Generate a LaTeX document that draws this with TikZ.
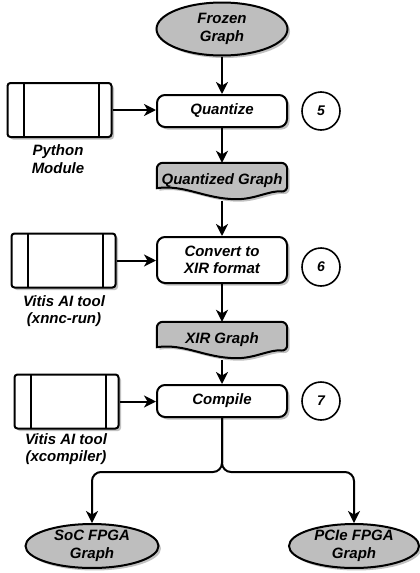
\documentclass[tikz,border=0pt]{standalone}
\usepackage{fontspec}
\setmainfont{Liberation Sans}
\usetikzlibrary{shapes.geometric, arrows.meta, calc, shadows, backgrounds}

\definecolor{shapegray}{RGB}{190,190,190}

% wavy bottom of a document shape, drawn behind the named node
\newcommand{\docshape}[1]{%
  \begin{pgfonlayer}{background}
    \filldraw[docline] ($(#1.south west)+(0,-11)$) [rounded corners=6pt]
      -- (#1.north west) -- (#1.north east) -- ($(#1.south east)+(0,-7)$) [sharp corners]
      .. controls ($(#1.south east)+(-17,-9)$) and ($(#1.south)+(33,0)$) .. ($(#1.south)+(15,0)$)
      .. controls ($(#1.south)+(-17,0)$) and ($(#1.south west)+(28,-15)$) .. ($(#1.south west)+(0,-11)$)
      -- cycle;
  \end{pgfonlayer}}

\begin{document}
\begin{tikzpicture}[x=1pt, y=-1pt,
    every node/.style={font=\bfseries\itshape\fontsize{15}{17.5}\selectfont, align=center},
    myshadow/.style={drop shadow={shadow xshift=2.5pt, shadow yshift=-2.5pt, fill=black!35, opacity=.7}},
    terminal/.style={ellipse, draw, line width=2pt, fill=shapegray, myshadow, inner sep=0pt},
    process/.style={rectangle, rounded corners=8pt, draw, line width=2pt, fill=white,
                    myshadow, minimum width=130pt, inner sep=0pt},
    docnode/.style={minimum width=130pt, minimum height=36pt, inner sep=0pt},
    docline/.style={line width=2pt, fill=shapegray, myshadow},
    module/.style={rectangle, rounded corners=3pt, draw, line width=2pt, fill=white, myshadow,
                   minimum width=104pt, minimum height=54pt,
                   path picture={
                     \draw[line width=2pt] ([xshift=16pt]path picture bounding box.north west)
                                        -- ([xshift=16pt]path picture bounding box.south west);
                     \draw[line width=2pt] ([xshift=-13pt]path picture bounding box.north east)
                                        -- ([xshift=-13pt]path picture bounding box.south east);}},
    stepnum/.style={circle, draw, line width=1.6pt, minimum size=38pt, inner sep=0pt,
                    font=\bfseries\itshape\fontsize{14}{16}\selectfont},
    flow/.style={line width=2pt, -{Stealth[length=12pt, width=12pt, inset=3.5pt]}}]

    \useasboundingbox (0,0) rectangle (420,573);

    % main column
    \node[terminal, minimum width=131pt, minimum height=53pt] (frozen) at (222,29) {Frozen\\Graph};
    \node[process, minimum height=32pt] (quant) at (222,111) {Quantize};
    \node[docnode] (qgraph) at (222,181) {Quantized Graph};
    \docshape{qgraph}
    \node[process, minimum height=46pt] (convert) at (222,260) {Convert to\\XIR format};
    \node[docnode] (xirgraph) at (222,340) {XIR Graph};
    \docshape{xirgraph}
    \node[process, minimum height=32pt] (compile) at (222,401) {Compile};

    % outputs
    \node[terminal, minimum width=133pt, minimum height=43pt] (soc) at (92,546) {SoC FPGA\\Graph};
    \node[terminal, minimum width=130pt, minimum height=43pt] (pcie) at (354,546) {PCIe FPGA\\Graph};

    % step numbers
    \node[stepnum] (s5) at (321,111) {5};
    \node[stepnum] (s6) at (321,267) {6};
    \node[stepnum] (s7) at (321,401) {7};

    % tools
    \node[module] (mod1) at (59.5,110) {};
    \node[module] (mod2) at (63.5,260.5) {};
    \node[module] (mod3) at (66.5,401.5) {};
    \node (lab1) at (58,159) {Python\\Module};
    \node (lab2) at (64,311) {Vitis AI tool\\(xnnc-run)};
    \node (lab3) at (66,449) {Vitis AI tool\\(xcompiler)};

    % connectors
    \draw[flow] (frozen) -- (quant);
    \draw[flow] (quant) -- (qgraph.north);
    \draw[flow, shorten <=2pt] (qgraph.south) -- (convert);
    \draw[flow] (convert) -- (xirgraph.north);
    \draw[flow, shorten <=2pt] (xirgraph.south) -- (compile);
    \foreach \m/\p in {mod1/quant, mod2/convert, mod3/compile}
        \draw[flow] (\m.east) -- (\m.east -| \p.west);

    \coordinate (split) at (222,472);
    \draw[flow, rounded corners=9pt] (compile.south) -- (split) -| (soc.north);
    \draw[flow, rounded corners=9pt] (compile.south) -- (split) -| (pcie.north);
\end{tikzpicture}
\end{document}
